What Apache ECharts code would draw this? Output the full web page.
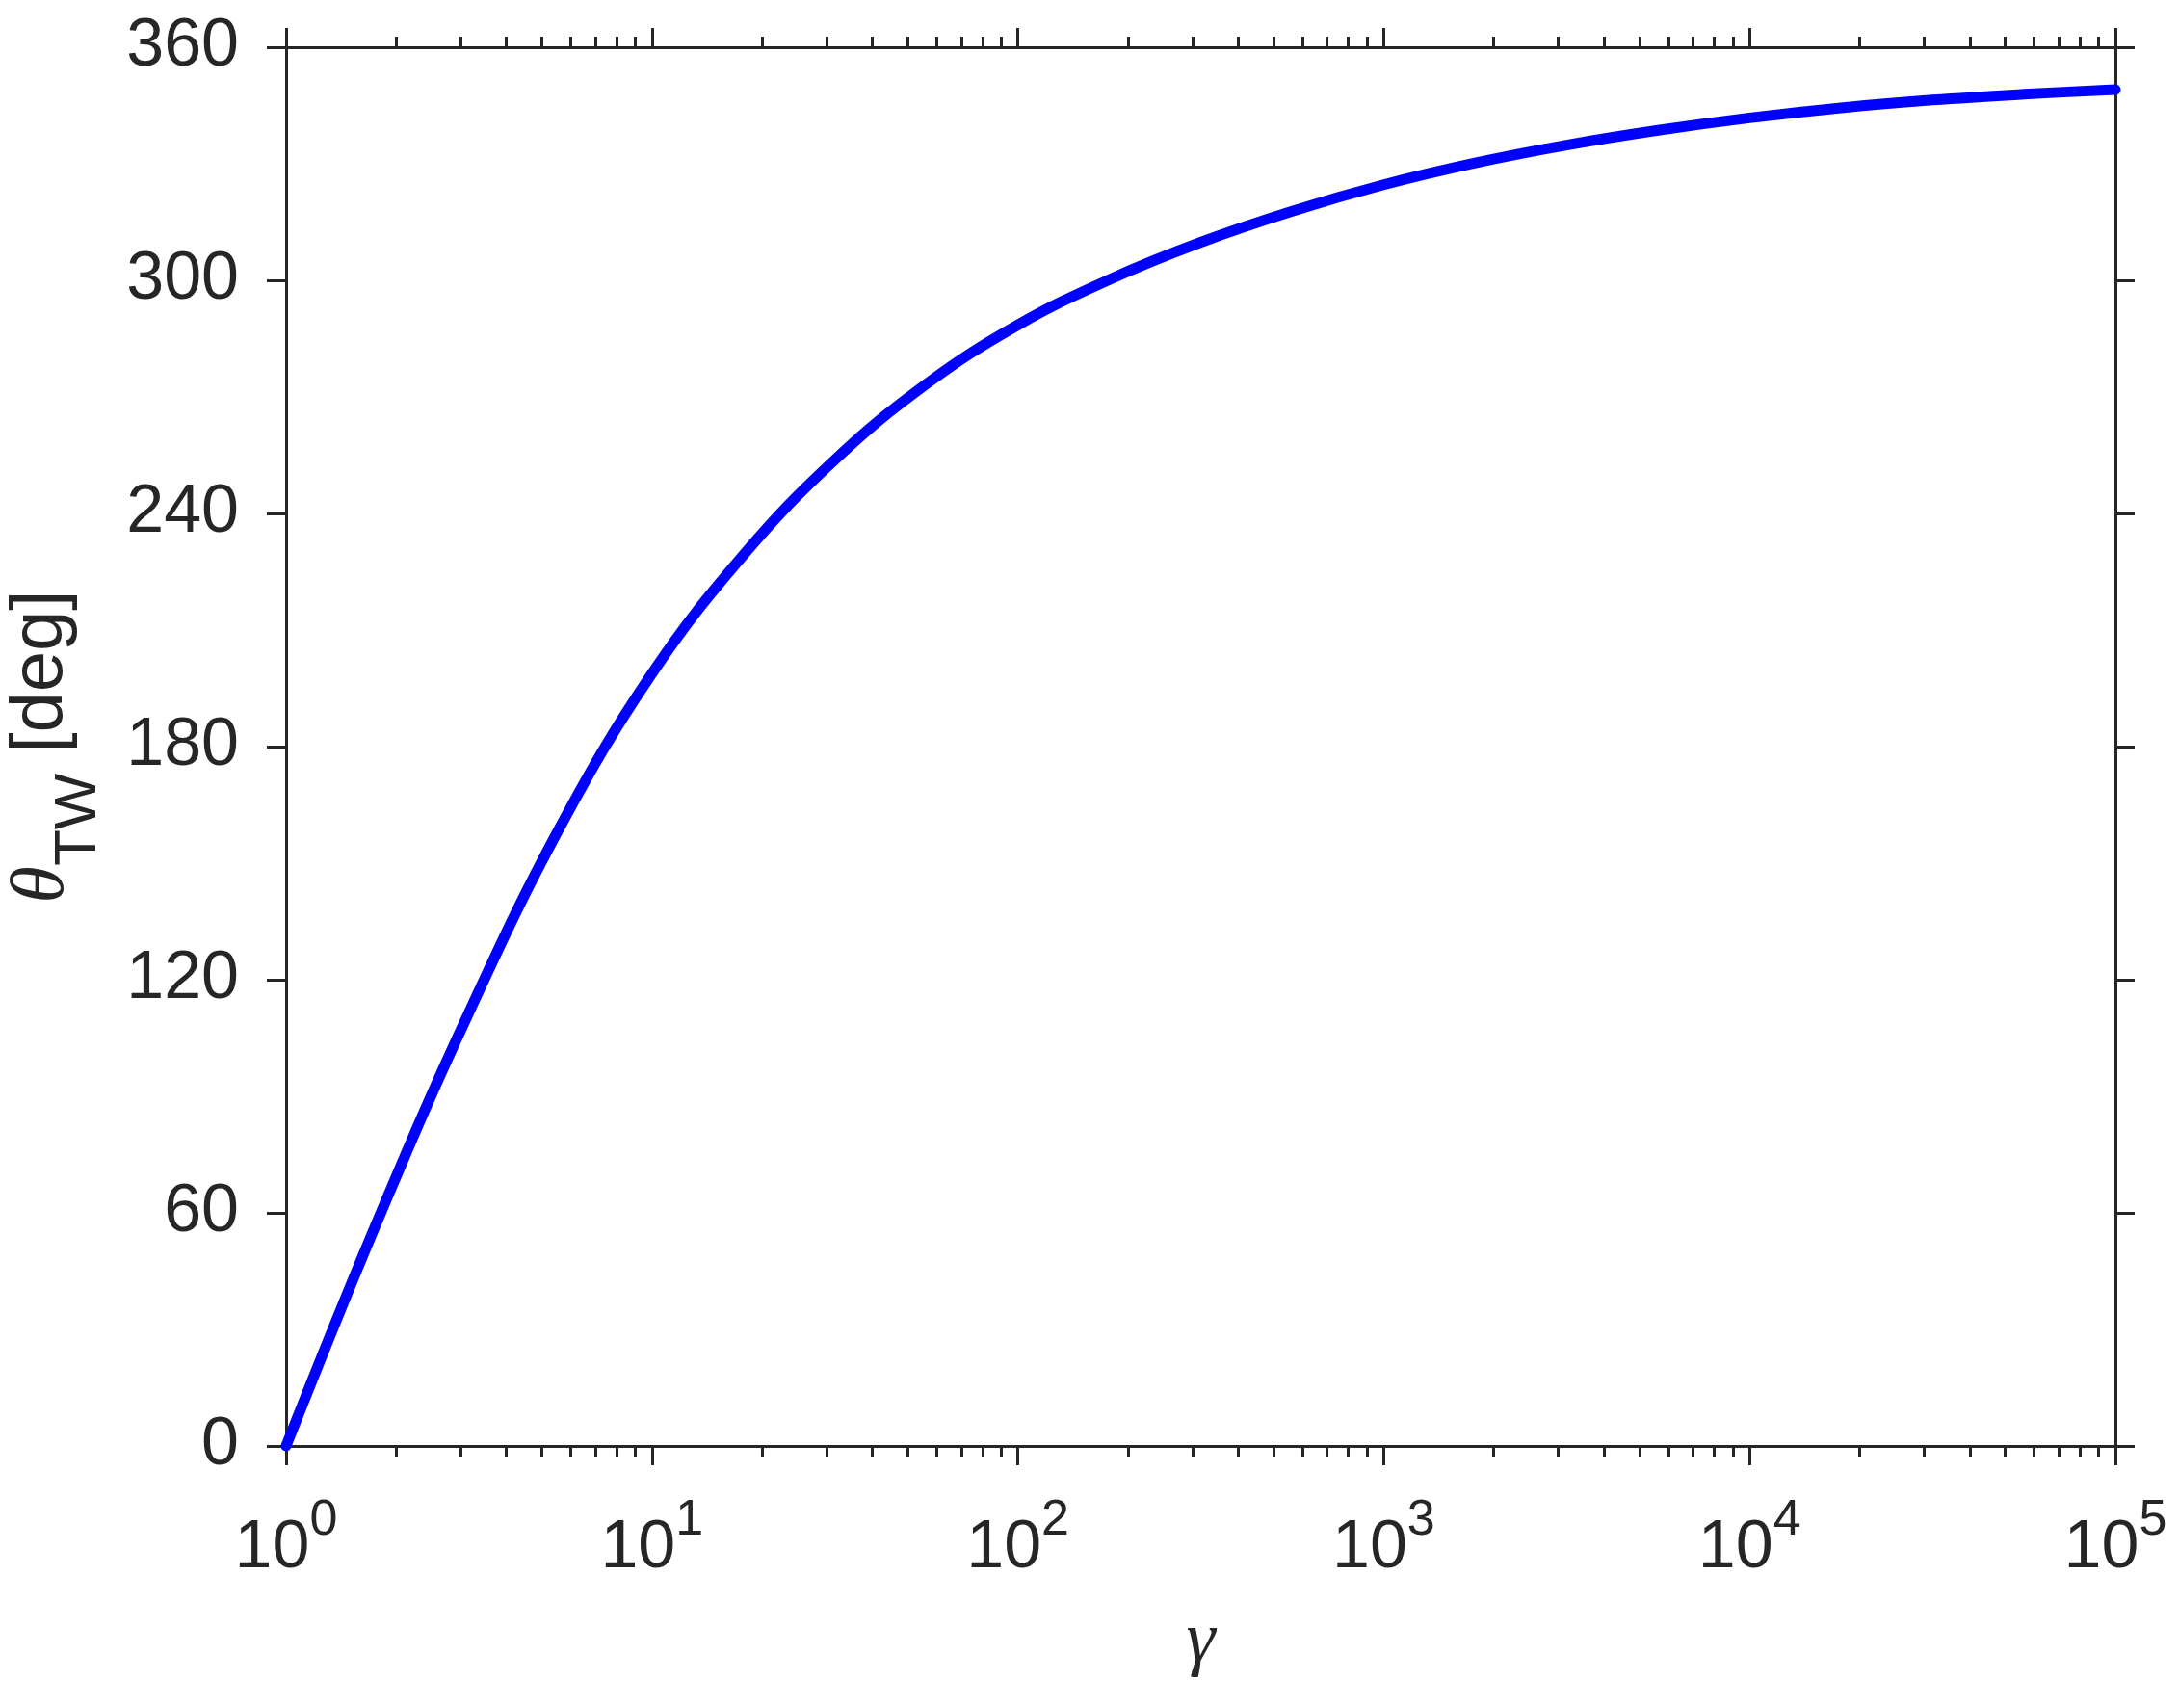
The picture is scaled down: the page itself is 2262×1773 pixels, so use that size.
<!DOCTYPE html>
<html>
<head>
<meta charset="utf-8">
<script src="https://cdn.jsdelivr.net/npm/echarts@6/dist/echarts.min.js"></script>
<style>
html, body { margin: 0; padding: 0; background: #ffffff; }
#chart { width: 2262px; height: 1773px; }
</style>
</head>
<body>
<div id="chart"></div>
<script>
// ---- data (samples every quarter decade) ----
const gammaValues = [1, 1.778, 3.162, 5.623, 10, 17.78, 31.62, 56.23, 100, 177.8, 316.2, 562.3,
  1000, 1778, 3162, 5623, 10000, 17780, 31620, 56230, 100000];
const thetaValues = [0, 58, 111.6, 159.5, 198.8, 229.3, 253.8, 273.3, 288.5, 300.2, 309.8, 317.8,
  324.6, 330.2, 334.8, 338.6, 341.8, 344.4, 346.4, 347.9, 349.1];

const xTickValues = [1, 10, 100, 1000, 10000, 100000];
const xTickExponents = ['0', '1', '2', '3', '4', '5'];
const yTickValues = [0, 60, 120, 180, 240, 300, 360];
const minorMultipliers = [2, 3, 4, 5, 6, 7, 8, 9];

// ---- derived ----
const lineData = gammaValues.map((g, i) => [g, thetaValues[i]]);
const xMinorTicks = [];
for (let d = 0; d < xTickValues.length - 1; d++) {
  minorMultipliers.forEach(m => xMinorTicks.push(m * xTickValues[d]));
}

const INK = '#262626';
const SANS = '"Liberation Sans", Arial, Helvetica, sans-serif';
const SERIF = '"Liberation Serif", "Times New Roman", serif';
const axisLineStyle = { color: INK, width: 3 };

function xLabel(v) {
  let best = 0, bd = Infinity;
  xTickValues.forEach((t, i) => {
    const d = Math.abs(Math.log10(v) - Math.log10(t));
    if (d < bd) { bd = d; best = i; }
  });
  return '{b|10}{s|' + xTickExponents[best] + '}';
}

const baseX = {
  type: 'log', logBase: 10, min: xTickValues[0], max: xTickValues[xTickValues.length - 1],
  splitLine: { show: false }, minorSplitLine: { show: false }
};

const option = {
  backgroundColor: '#ffffff',
  animation: false,
  grid: { left: 297, right: 66, top: 49, bottom: 272, containLabel: false, outerBoundsMode: 'none' },
  xAxis: [
    Object.assign({}, baseX, {
      position: 'bottom',
      axisLine: { show: true, onZero: false, lineStyle: axisLineStyle },
      axisTick: { show: true, inside: false, length: 20, customValues: xTickValues, lineStyle: axisLineStyle },
      axisLabel: {
        show: true, customValues: xTickValues, margin: 52, formatter: xLabel,
        rich: {
          b: { fontSize: 70, fontFamily: SANS, color: INK, padding: [20, 0, 0, 0], verticalAlign: 'bottom' },
          s: { fontSize: 52, fontFamily: SANS, color: INK, verticalAlign: 'top' }
        }
      },
      name: 'γ', nameLocation: 'middle', nameGap: 166,
      nameTextStyle: { fontSize: 76, fontFamily: SERIF, fontStyle: 'italic', color: INK }
    }),
    Object.assign({}, baseX, {
      position: 'top',
      axisLine: { show: true, onZero: false, lineStyle: axisLineStyle },
      axisTick: { show: true, inside: false, length: 20, customValues: xTickValues, lineStyle: axisLineStyle },
      axisLabel: { show: false }
    }),
    Object.assign({}, baseX, {
      position: 'bottom',
      axisLine: { show: false, onZero: false },
      axisTick: { show: true, inside: false, length: 11, customValues: xMinorTicks, lineStyle: axisLineStyle },
      axisLabel: { show: false }
    }),
    Object.assign({}, baseX, {
      position: 'top',
      axisLine: { show: false, onZero: false },
      axisTick: { show: true, inside: false, length: 11, customValues: xMinorTicks, lineStyle: axisLineStyle },
      axisLabel: { show: false }
    })
  ],
  yAxis: [
    {
      type: 'value', min: yTickValues[0], max: yTickValues[yTickValues.length - 1], interval: 60,
      position: 'left',
      axisLine: { show: true, onZero: false, lineStyle: axisLineStyle },
      axisTick: { show: true, inside: false, length: 20, lineStyle: axisLineStyle },
      axisLabel: { show: true, margin: 49, fontSize: 70, fontFamily: SANS, color: INK },
      splitLine: { show: false },
      name: '{th|θ}{sub|TW}{n| [deg]}', nameLocation: 'middle', nameGap: 184,
      nameTextStyle: {
        color: INK,
        rich: {
          th: { fontSize: 78, fontFamily: SERIF, fontStyle: 'italic', color: INK, verticalAlign: 'top' },
          sub: { fontSize: 62, fontFamily: SANS, color: INK, padding: [46, 0, 0, 0], verticalAlign: 'bottom' },
          n: { fontSize: 76, fontFamily: SANS, color: INK, verticalAlign: 'top' }
        }
      }
    },
    {
      type: 'value', min: yTickValues[0], max: yTickValues[yTickValues.length - 1], interval: 60,
      position: 'right',
      axisLine: { show: true, onZero: false, lineStyle: axisLineStyle },
      axisTick: { show: true, inside: false, length: 20, lineStyle: axisLineStyle },
      axisLabel: { show: false },
      splitLine: { show: false }
    }
  ],
  series: [{
    type: 'line',
    xAxisIndex: 0, yAxisIndex: 0,
    data: lineData,
    showSymbol: false,
    smooth: 0.4,
    clip: false,
    lineStyle: { color: '#0000ff', width: 11, cap: 'round', join: 'round' },
    z: 10
  }]
};

const chart = echarts.init(document.getElementById('chart'), null, { renderer: 'canvas' });
chart.setOption(option);
</script>
</body>
</html>
